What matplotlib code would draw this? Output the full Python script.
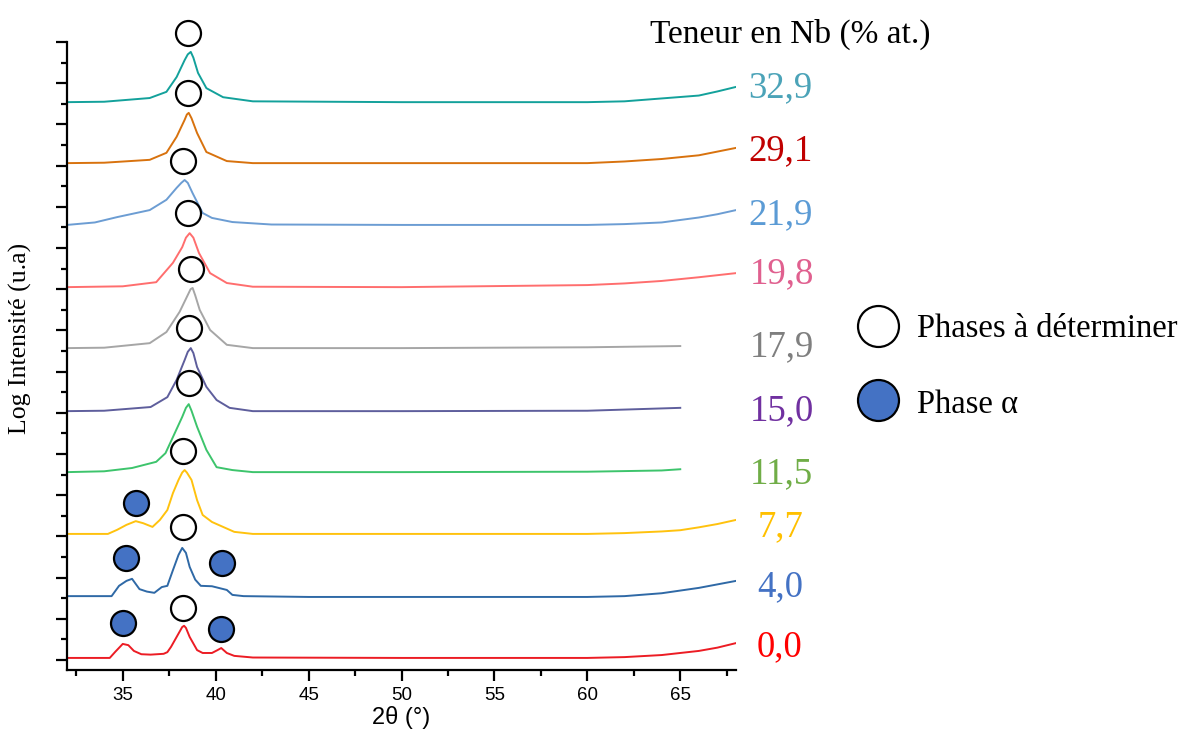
import numpy as np
import matplotlib
matplotlib.use('Agg')
import matplotlib.pyplot as plt
from matplotlib.lines import Line2D

# Diffractograms, one per Nb content, offset in log scale
x_00 = [32, 34.3, 34.6, 35.0, 35.3, 35.6, 36.0, 36.5, 37.2, 37.4, 37.6, 37.9, 38.2, 38.3, 38.4, 38.6, 39.0,
        39.3, 39.8, 40.1, 40.3, 40.6, 41.0, 42, 50, 60, 62, 64, 66, 67, 68]
y_00 = [0.05, 0.05, 0.20, 0.39, 0.36, 0.22, 0.14, 0.13, 0.15, 0.19, 0.32, 0.56, 0.80, 0.83, 0.78, 0.56, 0.24,
        0.17, 0.17, 0.24, 0.29, 0.17, 0.10, 0.06, 0.05, 0.05, 0.07, 0.12, 0.22, 0.30, 0.41]

x_40 = [32, 34.4, 34.8, 35.2, 35.5, 35.9, 36.3, 36.7, 37.1, 37.4, 37.7, 38.0, 38.2, 38.4, 38.6, 38.9, 39.2,
        39.8, 40.6, 40.9, 41.5, 45, 60, 62, 64, 66, 68]
y_40 = [1.55, 1.55, 1.80, 1.92, 1.97, 1.72, 1.66, 1.63, 1.77, 1.80, 2.18, 2.55, 2.72, 2.60, 2.26, 1.95, 1.80,
        1.79, 1.70, 1.58, 1.55, 1.53, 1.53, 1.55, 1.62, 1.75, 1.92]

x_77 = [32, 34.2, 34.7, 35.2, 35.7, 36.1, 36.6, 37.0, 37.4, 37.7, 38.0, 38.2, 38.33, 38.45, 38.7, 39.0, 39.3,
        39.8, 40.4, 41.0, 42, 50, 60, 62, 64, 65, 66, 67, 68]
y_77 = [3.06, 3.06, 3.16, 3.28, 3.37, 3.32, 3.23, 3.40, 3.64, 4.05, 4.37, 4.55, 4.61, 4.55, 4.37, 3.88, 3.52,
        3.35, 3.23, 3.11, 3.06, 3.06, 3.06, 3.08, 3.12, 3.15, 3.22, 3.30, 3.40]

x_115 = [32, 34, 35.5, 36.8, 37.3, 37.7, 38.2, 38.4, 38.55, 38.7, 39.0, 39.5, 40.05, 40.9, 42, 50, 60, 64, 65]
y_115 = [4.56, 4.58, 4.66, 4.81, 5.02, 5.41, 5.90, 6.12, 6.21, 6.05, 5.66, 5.10, 4.68, 4.61, 4.56, 4.56, 4.57,
         4.60, 4.63]

x_150 = [32, 34, 36.5, 37.4, 37.9, 38.33, 38.5, 38.66, 38.8, 39.0, 39.5, 40.05, 40.75, 42, 50, 60, 65]
y_150 = [6.04, 6.05, 6.14, 6.38, 6.80, 7.28, 7.48, 7.57, 7.45, 7.11, 6.63, 6.31, 6.12, 6.04, 6.04, 6.05, 6.12]

x_179 = [32, 34, 36.45, 37.35, 38.06, 38.5, 38.65, 38.76, 38.9, 39.14, 39.7, 40.6, 42, 50, 60, 65]
y_179 = [7.57, 7.58, 7.69, 7.96, 8.45, 8.86, 9.00, 9.03, 8.85, 8.50, 8.01, 7.65, 7.57, 7.57, 7.59, 7.62]

x_198 = [32, 35, 36.8, 37.7, 38.2, 38.4, 38.6, 38.8, 39.1, 39.7, 40.6, 42, 50, 60, 62, 64, 66, 68]
y_198 = [9.05, 9.07, 9.17, 9.64, 10.02, 10.25, 10.36, 10.25, 9.88, 9.39, 9.15, 9.06, 9.05, 9.10, 9.14, 9.20,
         9.29, 9.39]

x_219 = [32, 33.5, 34.7, 36.45, 37.35, 37.9, 38.15, 38.33, 38.5, 38.76, 39.3, 39.8, 40.9, 43, 50, 60, 62, 64,
         66, 67, 68]
y_219 = [10.56, 10.62, 10.75, 10.92, 11.17, 11.46, 11.58, 11.65, 11.58, 11.33, 10.85, 10.73, 10.63, 10.57,
         10.56, 10.56, 10.58, 10.62, 10.74, 10.82, 10.92]

x_291 = [32, 34, 36.45, 37.35, 37.9, 38.33, 38.45, 38.55, 38.7, 39.0, 39.5, 40.6, 42, 50, 60, 62, 64, 66, 68]
y_291 = [12.06, 12.07, 12.14, 12.31, 12.70, 13.11, 13.24, 13.28, 13.15, 12.79, 12.33, 12.11, 12.06, 12.06,
         12.06, 12.10, 12.16, 12.25, 12.43]

x_329 = [32, 34, 36.45, 37.35, 37.9, 38.33, 38.5, 38.66, 38.8, 39.05, 39.5, 40.4, 42, 50, 60, 62, 64, 66, 67, 68]
y_329 = [13.54, 13.55, 13.64, 13.79, 14.15, 14.56, 14.70, 14.76, 14.62, 14.25, 13.88, 13.66, 13.56, 13.54,
         13.54, 13.56, 13.63, 13.70, 13.80, 13.91]

nb_labels = ['0,0', '4,0', '7,7', '11,5', '15,0', '17,9', '19,8', '21,9', '29,1', '32,9']
line_colors = ['#EC1C24', '#2F69A6', '#FFC20E', '#3DC46C', '#5E5E9C',
               '#A6A6A6', '#FF6E6E', '#6C9DD3', '#D8720E', '#13A19B']
label_colors = ['#FF0000', '#4472C4', '#FFC000', '#70AD47', '#7030A0',
                '#7F7F7F', '#E0608F', '#5B9BD5', '#C00000', '#4BA3B8']
# label anchor in figure pixels (left, baseline)
label_px = [(757, 656), (757, 596), (758, 536), (750, 483), (750, 420),
            (750, 356), (750, 283), (748, 224), (748, 160), (748, 97)]

# Phase markers (2theta, offset)
open_x = [38.23, 38.23, 38.23, 38.55, 38.55, 38.66, 38.49, 38.23, 38.49, 38.49]
open_y = [1.26, 3.23, 5.07, 6.72, 8.06, 9.49, 10.85, 12.11, 13.76, 15.22]
alpha_x = [35.0, 40.27, 35.16, 40.32, 35.70]
alpha_y = [0.90, 0.75, 2.48, 2.35, 3.81]

xs = [x_00, x_40, x_77, x_115, x_150, x_179, x_198, x_219, x_291, x_329]
ys = [y_00, y_40, y_77, y_115, y_150, y_179, y_198, y_219, y_291, y_329]

W, H = 1190, 738
fig = plt.figure(figsize=(W / 100, H / 100), dpi=100)
ax = fig.add_axes([67 / W, 1 - 670 / H, (736 - 67) / W, (670 - 42) / H])

for x, y, c in zip(xs, ys, line_colors):
    ax.plot(x, y, color=c, lw=1.4)

ax.plot(open_x, open_y, 'o', ms=18, mfc='white', mec='black', mew=1.6, clip_on=False, zorder=5)
ax.plot(alpha_x, alpha_y, 'o', ms=18, mfc='#4472C4', mec='black', mew=1.6, clip_on=False, zorder=5)

ax.set_xlim(32, 68)
ax.set_ylim(-0.243, 15)
ax.set_xticks([35, 40, 45, 50, 55, 60, 65])
ax.set_xticks(np.arange(32.5, 68, 5), minor=True)
ax.set_yticks(np.arange(0, 16, 1))
ax.set_yticks(np.arange(0.5, 15, 1), minor=True)
ax.set_yticklabels([])
for s in ['top', 'right']:
    ax.spines[s].set_visible(False)
for s in ['left', 'bottom']:
    ax.spines[s].set_linewidth(1.6)
ax.spines['left'].set_bounds(-0.243, 15)
ax.tick_params(which='major', length=8, width=1.6, labelsize=13.5, pad=4)
ax.tick_params(which='minor', length=4.5, width=1.6)
for t in ax.get_xticklabels():
    t.set_family('Liberation Sans')

ax.set_xlabel('2θ (°)', family='Liberation Sans', fontsize=17, labelpad=2)
fig.text(20 / W, 1 - 338 / H, 'Log Intensité (u.a)', family='Liberation Serif', fontsize=18.5,
         rotation=90, ha='center', va='center')

# Nb content labels
for lab, c, (px, py) in zip(nb_labels, label_colors, label_px):
    fig.text(px / W, 1 - py / H, lab, color=c, family='Liberation Serif', fontsize=26.5,
             ha='left', va='baseline')
fig.text(650 / W, 1 - 43 / H, 'Teneur en Nb (% at.)', family='Liberation Serif', fontsize=24,
         ha='left', va='baseline')

# Legend
fig.add_artist(Line2D([878 / W], [1 - 326 / H], marker='o', ms=29.5, mfc='white', mec='black',
                      mew=1.6, transform=fig.transFigure))
fig.add_artist(Line2D([878 / W], [1 - 400 / H], marker='o', ms=29.5, mfc='#4472C4', mec='black',
                      mew=1.6, transform=fig.transFigure))
fig.text(917 / W, 1 - 337 / H, 'Phases à déterminer', family='Liberation Serif', fontsize=23.5,
         ha='left', va='baseline')
fig.text(917 / W, 1 - 413 / H, 'Phase α', family='Liberation Serif', fontsize=23.5,
         ha='left', va='baseline')

fig.savefig('out.png', dpi=100)
